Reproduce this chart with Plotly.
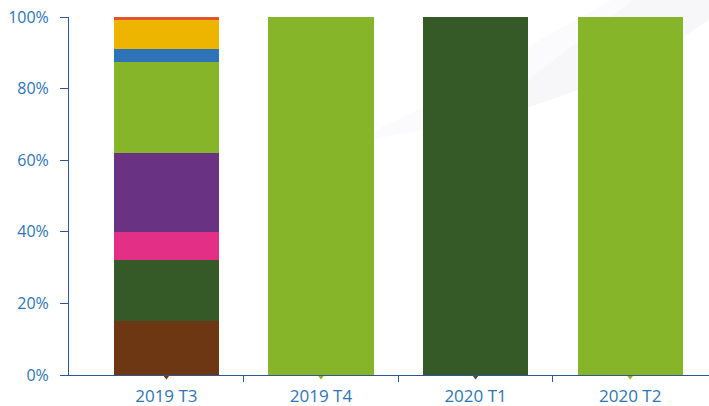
import plotly.graph_objects as go

# ---- data ----
categories = ["2019 T3", "2019 T4", "2020 T1", "2020 T2"]
series_names = ["Série 1", "Série 2", "Série 3", "Série 4", "Série 5", "Série 6", "Série 7", "Série 8"]
s1 = [15.0, 0, 0, 0]
s2 = [17.0, 0, 100, 0]
s3 = [8.0, 0, 0, 0]
s4 = [22.0, 0, 0, 0]
s5 = [25.5, 100, 0, 100]
s6 = [3.5, 0, 0, 0]
s7 = [8.2, 0, 0, 0]
s8 = [0.8, 0, 0, 0]
series_values = [s1, s2, s3, s4, s5, s6, s7, s8]
y_tick_values = [0, 20, 40, 60, 80, 100]
y_tick_labels = ["0%", "20%", "40%", "60%", "80%", "100%"]
boundary_ticks = [0.5, 1.5, 2.5]

colors = ["#6E3714", "#355927", "#E33086", "#6A3282", "#86B52A", "#2E72B8", "#EDB500", "#E2542A"]
base_colors = ["#6E3714", "#86B52A", "#355927", "#86B52A"]

W, H = 709, 406
L, R, T, B = 69, 0, 17, 31
pw, ph = W - L - R, H - T - B

def px(x, y):
    return (x - L) / pw, (H - B - y) / ph

xpos = list(range(len(categories)))

fig = go.Figure()
for name, vals, c in zip(series_names, series_values, colors):
    fig.add_trace(go.Bar(x=xpos, y=vals, name=name, width=0.68,
                         marker=dict(color=c, line=dict(width=0)),
                         hoverinfo="skip"))

fig.add_trace(go.Scatter(x=xpos, y=[0] * len(xpos), mode="markers", xaxis="x2",
                         marker=dict(symbol="triangle-down", size=9, color=base_colors),
                         cliponaxis=False, hoverinfo="skip", showlegend=False))

# faint background swoosh
def path(pts):
    s = ""
    for i, (x, y) in enumerate(pts):
        a, b = px(x, y)
        s += ("M" if i == 0 else "L") + f"{a:.4f},{b:.4f} "
    return s + "Z"

sw1 = [(330, 160), (380, 138), (450, 124), (527, 108), (600, 82), (660, 52), (709, 20),
       (709, -5), (620, -5), (540, 40), (450, 95), (380, 128)]
sw2 = [(480, 117), (527, 108), (600, 82), (660, 52), (709, 20),
       (709, -5), (640, -5), (580, 40)]
shapes = [
    dict(type="path", xref="paper", yref="paper", path=path(sw1),
         fillcolor="rgba(236,238,244,0.22)", line=dict(width=0), layer="below"),
    dict(type="path", xref="paper", yref="paper", path=path(sw2),
         fillcolor="rgba(236,238,244,0.28)", line=dict(width=0), layer="below"),
]

axis_color = "#2F5597"
label_color = "#2E75B6"
font_family = "Open Sans, Lato, sans-serif"

fig.update_layout(
    width=W, height=H,
    margin=dict(l=L, r=R, t=T, b=B, pad=0, autoexpand=False),
    barmode="stack",
    showlegend=False,
    paper_bgcolor="white",
    plot_bgcolor="rgba(0,0,0,0)",
    shapes=shapes,
    font=dict(family=font_family, color=label_color),
    xaxis=dict(range=[-0.63, 3.51], tickvals=xpos, ticktext=categories,
               ticks="", showline=True, linecolor=axis_color, linewidth=1,
               showgrid=False, zeroline=False, ticklabelstandoff=6, automargin=False,
               tickfont=dict(size=17, color=label_color, family=font_family)),
    xaxis2=dict(range=[-0.63, 3.51], overlaying="x", anchor="y", side="bottom",
                tickvals=boundary_ticks, ticks="outside", ticklen=6, tickwidth=1,
                tickcolor=axis_color, showticklabels=False, showline=False,
                showgrid=False, zeroline=False, automargin=False),
    yaxis=dict(range=[0, 100], tickvals=y_tick_values, ticktext=y_tick_labels,
               ticks="outside", ticklen=8, tickwidth=1, tickcolor=axis_color,
               showline=True, linecolor=axis_color, linewidth=1, automargin=False,
               showgrid=False, zeroline=False, ticklabelstandoff=8,
               tickfont=dict(size=16, color=label_color, family=font_family)),
)

fig.write_html("out.html", config={"displayModeBar": False, "staticPlot": True},
               post_script="document.body.style.margin='0';document.body.style.overflow='hidden';")
